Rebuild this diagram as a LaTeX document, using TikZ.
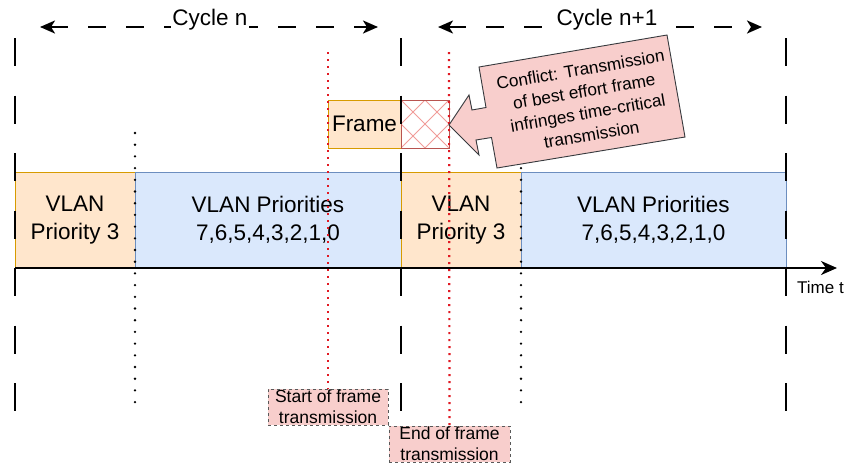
\documentclass[tikz,border=0pt]{standalone}
\usepackage{fontspec}
\setmainfont{Liberation Sans}
\usetikzlibrary{arrows.meta,calc}
\definecolor{ofill}{HTML}{FFE6CC}
\definecolor{odraw}{HTML}{D79B00}
\definecolor{bfill}{HTML}{DAE8FC}
\definecolor{bdraw}{HTML}{6C8EBF}
\definecolor{pfill}{HTML}{F8CECC}
\definecolor{pdraw}{HTML}{B85450}
\definecolor{hatchc}{HTML}{F19C99}
\definecolor{reddot}{RGB}{225,25,35}
\definecolor{calloutdraw}{HTML}{36393D}
\tikzset{
  bigfont/.style={font=\fontsize{22.5}{28}\selectfont},
  smallfont/.style={font=\fontsize{17.5}{21}\selectfont},
  calloutfont/.style={font=\fontsize{17.2}{22}\selectfont},
  slotbox/.style={draw, line width=0.8pt, inner sep=0pt, outer sep=0pt, align=center, bigfont},
  orangebox/.style={slotbox, fill=ofill, draw=odraw},
  bluebox/.style={slotbox, fill=bfill, draw=bdraw},
  cyclebound/.style={line width=2.3pt, dash pattern=on 28pt off 29.5pt},
  blackdots/.style={line width=2.6pt, line cap=round, dash pattern=on 0pt off 11.7pt},
  reddots/.style={draw=reddot, line width=2.2pt, dash pattern=on 2.2pt off 4.8pt},
  cyclearrow/.style={line width=2.3pt, dash pattern=on 18pt off 20pt,
     {Stealth[length=15pt,width=13pt,inset=4pt]}-{Stealth[length=15pt,width=13pt,inset=4pt]}},
  cyclelabel/.style={bigfont, fill=white, inner sep=1pt, anchor=base},
  notelabel/.style={smallfont, fill=pfill, draw=black!65, dashed, line width=0.8pt,
     inner sep=0pt, align=center},
}
\begin{document}
\begin{tikzpicture}[x=1pt,y=-1pt]
\useasboundingbox (0,0) rectangle (850,464);
\fill[white] (0,0) rectangle (850,464);

% slots
\node[orangebox, minimum width=120pt, minimum height=96pt] (o1) at (75,220) {VLAN\\Priority 3};
\node[bluebox, minimum width=266pt, minimum height=96pt] (b1) at (268,220) {VLAN Priorities\\7,6,5,4,3,2,1,0};
\node[orangebox, minimum width=120pt, minimum height=96pt] (o2) at (461,220) {VLAN\\Priority 3};
\node[bluebox, minimum width=265pt, minimum height=96pt] (b2) at (653.5,220) {VLAN Priorities\\7,6,5,4,3,2,1,0};

% frame and conflict hatch
\node[orangebox, minimum width=73pt, minimum height=48pt] (frame) at (364.5,124) {Frame};
\node[draw=pdraw, line width=0.8pt, fill=white, minimum width=48pt, minimum height=48pt, inner sep=0pt, outer sep=0pt] (hatch) at (425,124) {};
\begin{scope}
  \clip (401,100) rectangle (449,148);
  \foreach \k in {-96,-72,...,96} {
    \draw[hatchc, line width=0.8pt] (401+\k,100) -- (449+\k,148);
    \draw[hatchc, line width=0.8pt] (449+\k,100) -- (401+\k,148);
  }
\end{scope}
\draw[pdraw, line width=0.8pt] (401,100) rectangle (449,148);

% cycle boundaries
\draw[cyclebound] (15,38) -- (15,412);
\draw[cyclebound] (401,38) -- (401,412);
\draw[cyclebound] (786,38) -- (786,412);

% priority boundaries
\draw[blackdots] (135,133) -- (135,411);
\draw[blackdots] (521,133) -- (521,411);

% timeline
\coordinate (t0) at (15,268);
\coordinate (t1) at (837,268);
\draw[line width=2pt, -{Stealth[length=16pt,width=14pt,inset=5pt]}] (t0) -- (t1);
\node[font=\fontsize{17}{20}\selectfont, anchor=west, inner sep=0pt] (timet) at (797,287) {Time t};

% cycle arrows
\coordinate (c1a) at (40,27);
\coordinate (c1b) at (378,27);
\coordinate (c2a) at (438,27);
\coordinate (c2b) at (762,27);
\draw[cyclearrow] (c1a) -- (c1b);
\draw[cyclearrow] (c2a) -- (c2b);
\node[cyclelabel] (cn) at (210,25) {Cycle n};
\node[cyclelabel] (cn1) at (607,25) {Cycle n+1};

% frame start/end labels
\node[notelabel, minimum width=120pt, minimum height=36pt] (startlbl) at (328,407) {Start of frame\\transmission};
\node[notelabel, minimum width=121pt, minimum height=36pt] (endlbl) at (449.5,444) {End of frame\\transmission};

% red dotted markers
\coordinate (s0) at (328,52);
\coordinate (e0) at (449,52);
\draw[reddots] (s0) -- (startlbl.north);
\draw[reddots] (e0) -- (endlbl.north);

% callout
\filldraw[fill=pfill, draw=calloutdraw, line width=0.9pt]
  (479,67) -- (667,35) -- (685,137) -- (497,168) -- (491.5,137.5) -- (476,140)
  -- (479,155) -- (449,125) -- (469,95) -- (472,110) -- (486,107.5) -- cycle;
\node[calloutfont, rotate=9.7, align=center, inner sep=0pt] (conflict) at (586,102)
  {Conflict: Transmission\\of best effort frame\\infringes time-critical\\transmission};
\end{tikzpicture}
\end{document}
